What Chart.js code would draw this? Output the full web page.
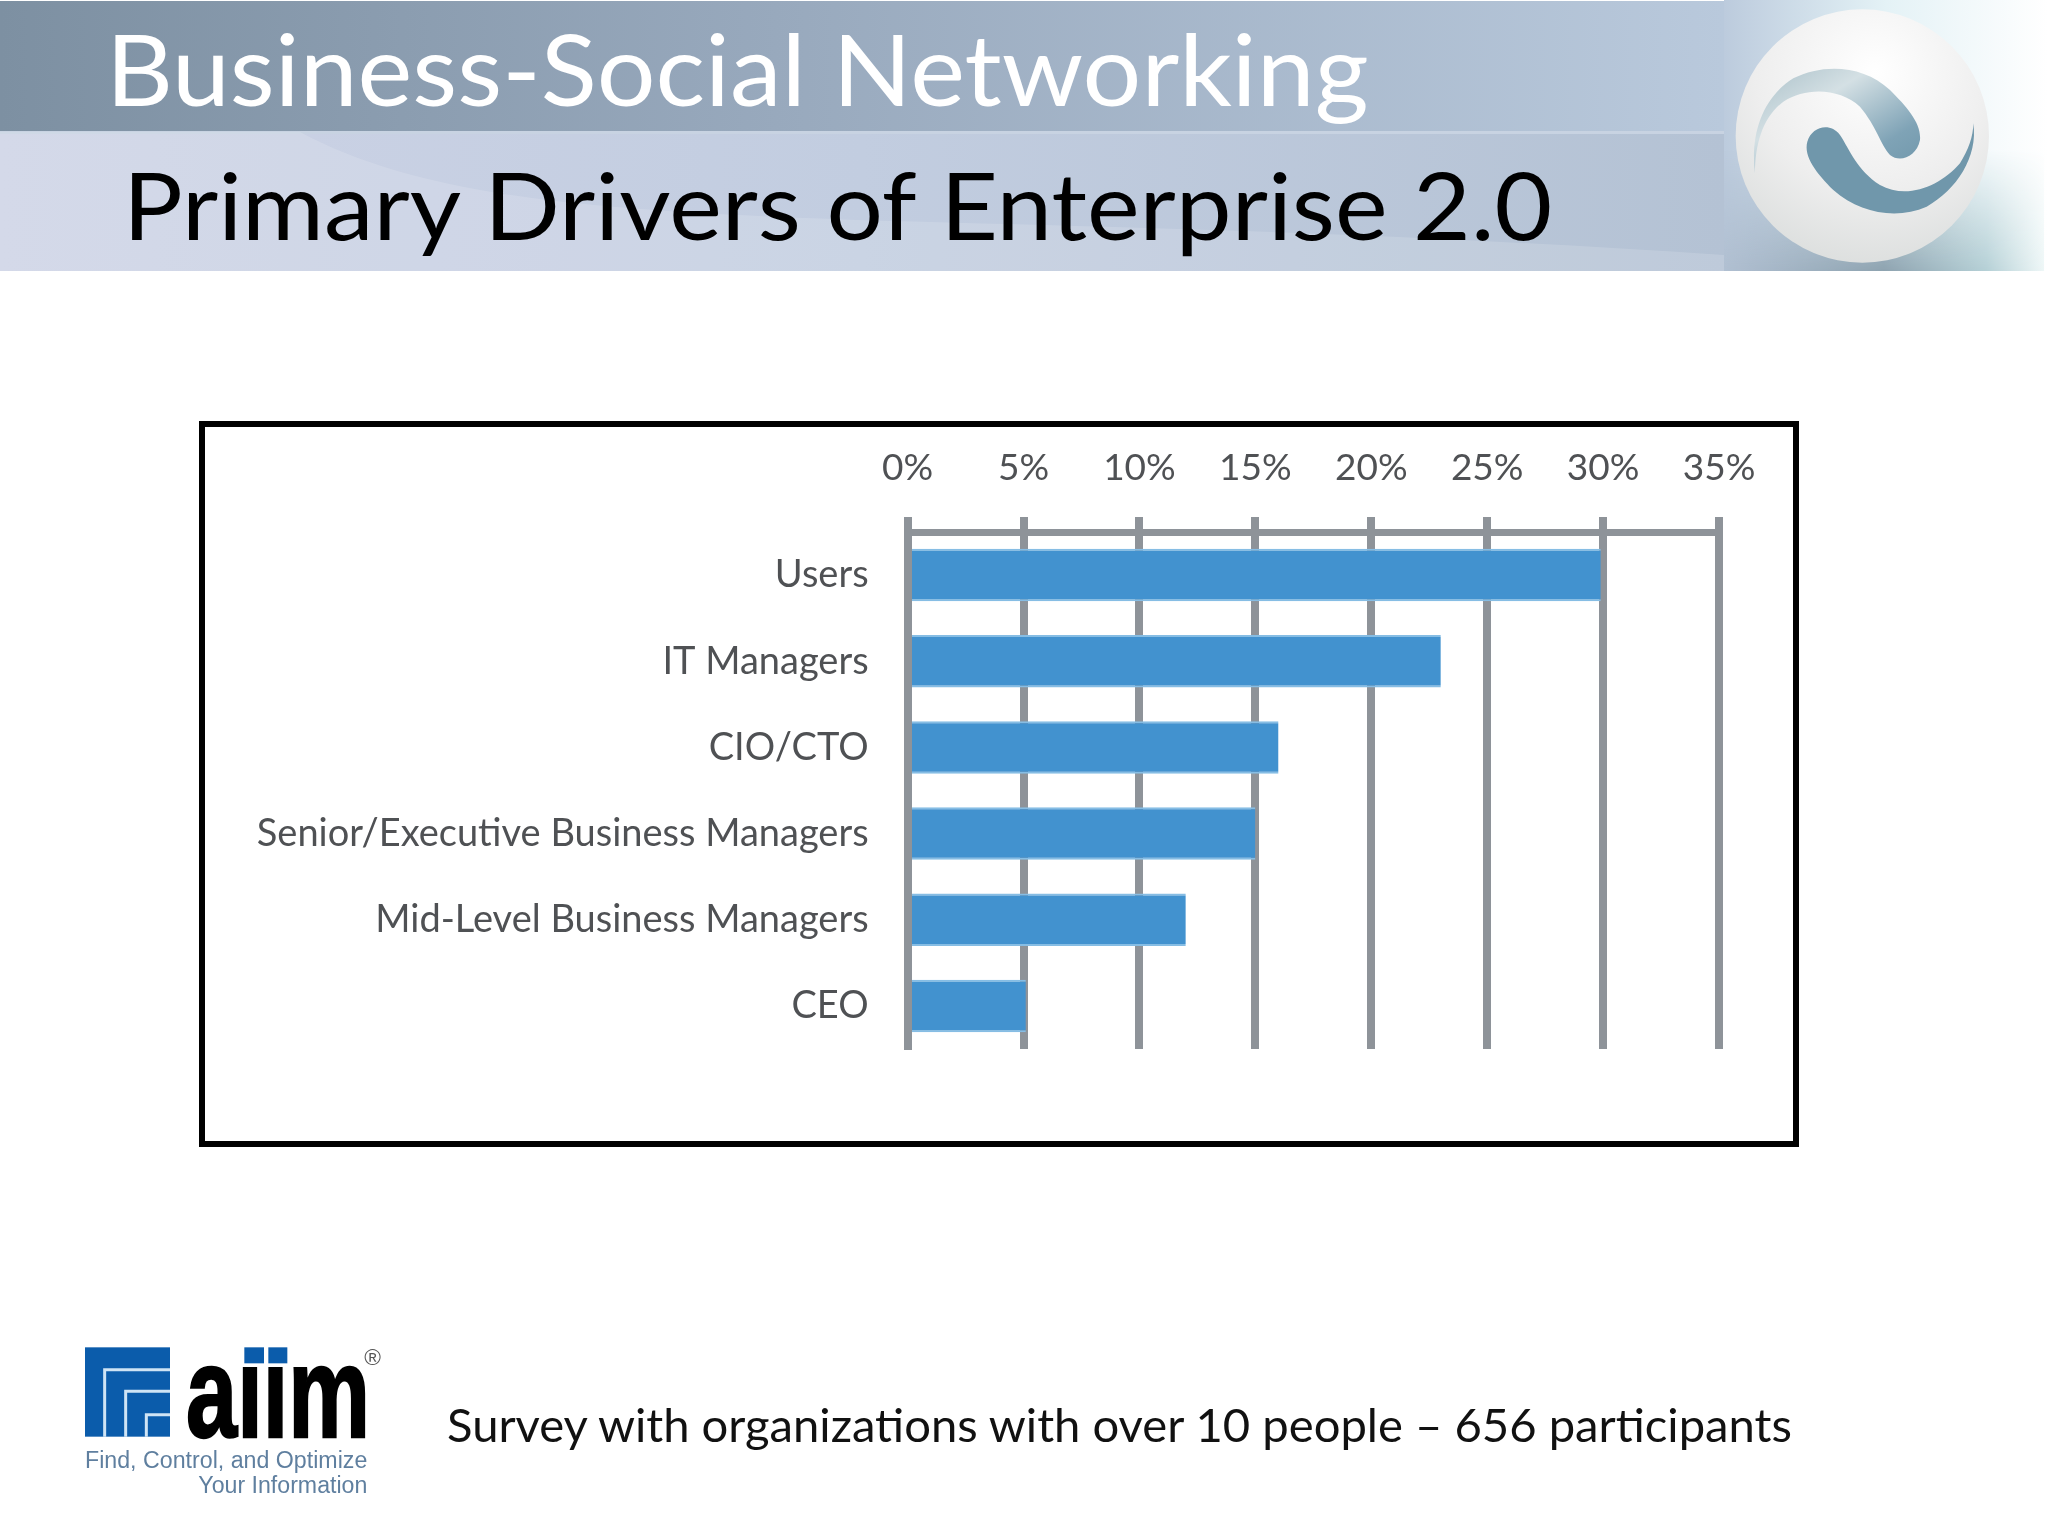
<!DOCTYPE html>
<html>
<head>
<meta charset="utf-8">
<script src="https://cdn.jsdelivr.net/npm/chart.js@4"></script>
<style>
  html, body { margin: 0; padding: 0; background: #fff; }
  body { width: 2048px; height: 1536px; position: relative; overflow: hidden; font-family: Lato, sans-serif; }
  .abs { position: absolute; white-space: nowrap; }
  #title1 { left: 106px; top: 8px; font-size: 99px; line-height: 120px; color: #fff; transform: scaleX(1.048); transform-origin: left; }
  #title2 { left: 123px; top: 144px; font-size: 94px; line-height: 120px; color: #000; transform: scaleX(1.06); transform-origin: left; }
  #frame { left: 199px; top: 421px; width: 1588px; height: 714px; border: 6px solid #000; }
  #survey { left: 447px; top: 1394px; font-size: 47.2px; line-height: 60px; color: #111; }
  #chart { position: absolute; left: 0; top: 0; }
</style>
</head>
<body>
<svg class="abs" style="left:0;top:0" width="2048" height="280" viewBox="0 0 2048 280">
  <defs>
    <linearGradient id="bandTop" x1="0" x2="1" y1="0" y2="0">
      <stop offset="0" stop-color="#7d90a2"/><stop offset="0.45" stop-color="#98a9bd"/><stop offset="1" stop-color="#b9c9dc"/>
    </linearGradient>
    <linearGradient id="bandLow" x1="0" x2="1" y1="0" y2="0">
      <stop offset="0" stop-color="#cdd3e6"/><stop offset="0.5" stop-color="#c2cde0"/><stop offset="1" stop-color="#b4c2d4"/>
    </linearGradient>
    <linearGradient id="corner" x1="0" x2="1" y1="0" y2="0">
      <stop offset="0" stop-color="#bccbdd"/><stop offset="0.5" stop-color="#e4f2f6"/><stop offset="1" stop-color="#ffffff"/>
    </linearGradient>
    <linearGradient id="cornerLow" x1="0" x2="1" y1="0" y2="0">
      <stop offset="0" stop-color="#b0bfd1"/><stop offset="0.5" stop-color="#8ea3b0"/><stop offset="0.82" stop-color="#b5d0d6"/><stop offset="1" stop-color="#eef7f7"/>
    </linearGradient>
    <linearGradient id="fadeUp" x1="0" x2="0" y1="0" y2="1">
      <stop offset="0" stop-color="#000"/><stop offset="1" stop-color="#fff"/>
    </linearGradient>
    <mask id="lowMask"><rect x="1724" y="150" width="324" height="121" fill="url(#fadeUp)"/></mask>
    <radialGradient id="ball" cx="0.55" cy="0.25" r="0.85">
      <stop offset="0" stop-color="#ffffff"/><stop offset="0.55" stop-color="#eeeeee"/><stop offset="1" stop-color="#d8dbda"/>
    </radialGradient>
    <linearGradient id="swirl" x1="0" x2="1" y1="0" y2="1">
      <stop offset="0" stop-color="#a9bfc8"/><stop offset="0.35" stop-color="#d4e0e4"/><stop offset="0.75" stop-color="#7fa3b6"/><stop offset="1" stop-color="#6f96aa"/>
    </linearGradient>
  </defs>
  <rect x="0" y="1" width="1724" height="131" fill="url(#bandTop)"/>
  <rect x="0" y="132" width="1724" height="139" fill="url(#bandLow)"/>
  <rect x="0" y="131" width="1724" height="3" fill="#c8d3e2"/>
  <path d="M300 132 C 520 250 900 200 1724 255 L1724 271 L0 271 L0 132 Z" fill="#fff" opacity="0.14"/>
  <rect x="1724" y="0" width="324" height="271" fill="url(#corner)"/>
  <rect x="1724" y="150" width="320" height="121" fill="url(#cornerLow)" mask="url(#lowMask)"/>
  <g transform="translate(1700,0) scale(0.3333)">
    <circle cx="487" cy="408" r="380" fill="url(#ball)"/>
    <path d="M165 520 C150 400 190 290 280 235 C370 190 490 195 570 270 C620 320 665 370 660 420 C650 470 600 490 570 465 C540 430 530 380 480 320 C420 265 320 260 250 305 C190 350 165 430 165 520 Z" fill="url(#swirl)"/>
    <path d="M820 370 C835 470 770 570 680 620 C590 660 480 640 400 570 C350 520 310 470 322 425 C335 380 390 365 420 405 C450 450 470 510 540 555 C620 600 720 560 780 490 C805 450 820 410 820 370 Z" fill="#7097ab"/>
  </g>
</svg>

<div class="abs" id="title1">Business-Social Networking</div>
<div class="abs" id="title2">Primary Drivers of Enterprise 2.0</div>

<div class="abs" id="frame"></div>
<canvas id="chart" width="2048" height="1536"></canvas>

<svg class="abs" style="left:60px;top:1330px" width="360" height="206" viewBox="0 0 1080 618">
  <rect x="75" y="52" width="255" height="268" fill="#0b5cab"/>
  <path d="M134 320 V119 H330 M197 320 V184 H330 M259 320 V254 H330" fill="none" stroke="#cfe4f5" stroke-width="9"/>
  <text x="378" y="320" font-family="Liberation Sans" font-weight="700" font-size="388" textLength="552" lengthAdjust="spacingAndGlyphs" fill="#000" stroke="#000" stroke-width="7">aiim</text>
  <rect x="535" y="20" width="155" height="90" fill="#fff"/>
  <rect x="553" y="52" width="59" height="48" fill="#0b5cab"/>
  <rect x="625" y="52" width="57" height="48" fill="#0b5cab"/>
  <text x="938" y="105" font-family="Liberation Sans" font-size="68" text-anchor="middle" fill="#555">®</text>
  <text x="75" y="415" font-family="Liberation Sans" font-size="74" textLength="847" lengthAdjust="spacingAndGlyphs" fill="#5f7f9f">Find, Control, and Optimize</text>
  <text x="415" y="490" font-family="Liberation Sans" font-size="74" textLength="507" lengthAdjust="spacingAndGlyphs" fill="#5f7f9f">Your Information</text>
</svg>

<div class="abs" id="survey">Survey with organizations with over 10 people – 656 participants</div>

<script>
const categories = ['Users', 'IT Managers', 'CIO/CTO', 'Senior/Executive Business Managers', 'Mid-Level Business Managers', 'CEO'];
const shares = [29.9, 23, 16, 15, 12, 5.1];
const axisMax = 35;
const axisStep = 5;

const gridGrey = '#8e9399';
const labelGrey = '#4f5154';

new Chart(document.getElementById('chart'), {
  type: 'bar',
  data: {
    labels: categories,
    datasets: [{
      data: shares,
      backgroundColor: '#4292cf',
      borderColor: '#86bde4',
      borderWidth: { top: 2, bottom: 2, left: 0, right: 0 },
      borderSkipped: false,
      categoryPercentage: 0.61,
      barPercentage: 1
    }]
  },
  options: {
    indexAxis: 'y',
    responsive: false,
    animation: false,
    devicePixelRatio: 1,
    layout: { padding: { left: 205, top: 427, right: 329, bottom: 487 } },
    plugins: { legend: { display: false }, tooltip: { enabled: false } },
    scales: {
      x: {
        position: 'top',
        min: 0,
        max: axisMax,
        afterFit: s => { s.height = 105; },
        grid: { color: gridGrey, lineWidth: 8, tickLength: 15, tickColor: gridGrey, tickWidth: 8 },
        border: { color: gridGrey, width: 7 },
        ticks: {
          stepSize: axisStep,
          padding: 27,
          maxRotation: 0,
          color: labelGrey,
          font: { family: 'Lato', size: 37 },
          callback: v => v + '%'
        }
      },
      y: {
        afterFit: s => { s.width = 702.6; },
        grid: { display: false, drawTicks: false },
        border: { color: gridGrey, width: 8, z: 1 },
        ticks: {
          padding: 39,
          color: labelGrey,
          font: { family: 'Lato', size: 38 }
        }
      }
    }
  }
});
</script>
</body>
</html>
